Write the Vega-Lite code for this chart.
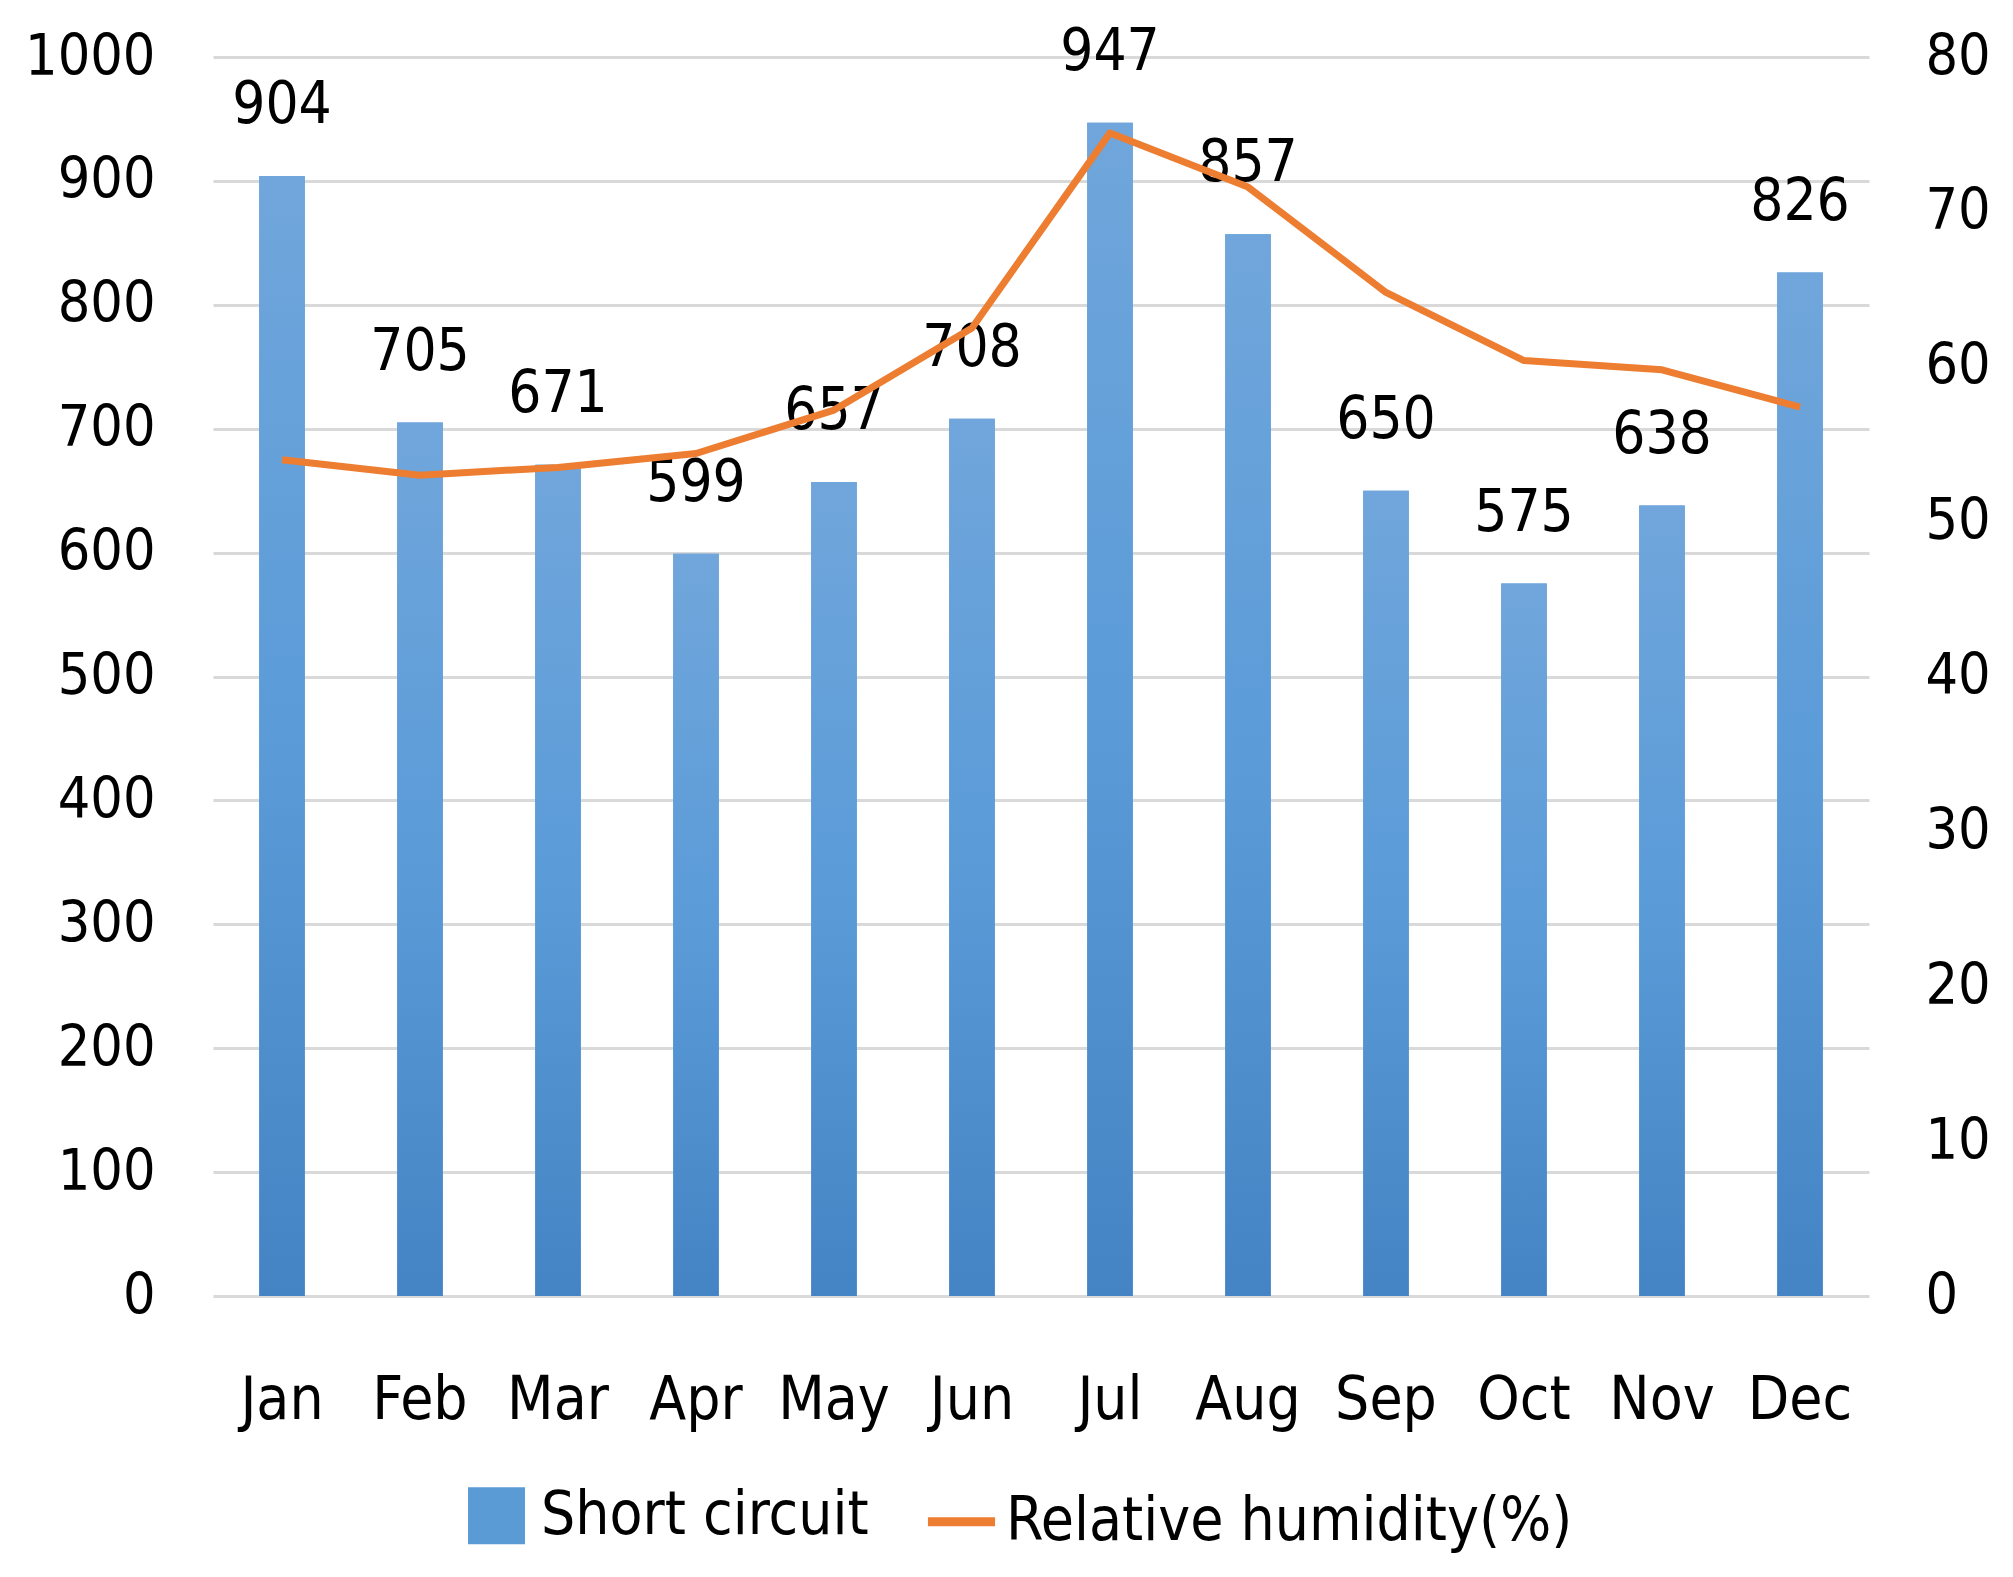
{
  "$schema": "https://vega.github.io/schema/vega-lite/v6.json",
  "width": 1656,
  "height": 1239,
  "padding": {"left": 24, "top": 23, "right": 10, "bottom": 10},
  "background": "white",
  "config": {
    "view": {"stroke": null},
    "font": "DejaVu Sans Condensed, Liberation Sans",
    "axis": {"labelColor": "black", "labelFont": "DejaVu Sans Condensed, Liberation Sans"},
    "legend": {"labelColor": "black", "labelFont": "DejaVu Sans Condensed, Liberation Sans"}
  },
  "data": {
    "values": [
      {"month": "Jan", "short": 904, "humidity": 54.0},
      {"month": "Feb", "short": 705, "humidity": 53.0},
      {"month": "Mar", "short": 671, "humidity": 53.5},
      {"month": "Apr", "short": 599, "humidity": 54.4},
      {"month": "May", "short": 657, "humidity": 57.2},
      {"month": "Jun", "short": 708, "humidity": 62.5},
      {"month": "Jul", "short": 947, "humidity": 75.1},
      {"month": "Aug", "short": 857, "humidity": 71.6},
      {"month": "Sep", "short": 650, "humidity": 64.8},
      {"month": "Oct", "short": 575, "humidity": 60.4},
      {"month": "Nov", "short": 638, "humidity": 59.8},
      {"month": "Dec", "short": 826, "humidity": 57.4}
    ]
  },
  "encoding": {
    "x": {
      "field": "month",
      "type": "nominal",
      "sort": null,
      "scale": {"paddingInner": 0.67, "paddingOuter": 0.335},
      "axis": {
        "title": null,
        "labelAngle": 0,
        "labelFontSize": 60,
        "labelPadding": 75,
        "ticks": false,
        "domain": false,
        "grid": false
      }
    }
  },
  "layer": [
    {
      "encoding": {
        "y": {
          "field": "short",
          "type": "quantitative",
          "scale": {"domain": [0, 1000]},
          "axis": {
            "title": null,
            "format": "d",
            "values": [0, 100, 200, 300, 400, 500, 600, 700, 800, 900, 1000],
            "grid": true,
            "gridColor": "#D9D9D9",
            "gridWidth": 3,
            "domain": false,
            "ticks": false,
            "labelFontSize": 57,
            "labelPadding": 58
          }
        }
      },
      "layer": [
        {
          "mark": {"type": "bar"},
          "encoding": {
            "color": {
              "datum": "Short circuit",
              "scale": {
                "domain": ["Short circuit", "Relative humidity(%)"],
                "range": ["#5B9BD5", "#ED7D31"]
              },
              "legend": {
                "orient": "none",
                "legendX": 245,
                "legendY": 1420,
                "direction": "horizontal",
                "title": null,
                "labelFontSize": 60,
                "labelLimit": 0,
                "symbolSize": 2300,
                "columnPadding": 40,
                "labelOffset": 6,
                "encode": {
                  "symbols": {
                    "update": {
                      "shape": {"signal": "datum.value == 'Short circuit' ? 'square' : 'stroke'"},
                      "size": {"signal": "datum.value == 'Short circuit' ? 2300 : 4500"},
                      "fill": {"signal": "datum.value == 'Short circuit' ? '#5B9BD5' : 'transparent'"},
                      "stroke": {"signal": "datum.value == 'Short circuit' ? 'transparent' : '#ED7D31'"},
                      "strokeWidth": {"value": 9}
                    }
                  }
                }
              }
            }
          }
        },
        {
          "mark": {
            "type": "bar",
            "fill": {
              "gradient": "linear",
              "x1": 0, "y1": 0, "x2": 0, "y2": 1,
              "stops": [
                {"offset": 0, "color": "#70A6DB"},
                {"offset": 0.5, "color": "#5A9BD8"},
                {"offset": 1, "color": "#4584C4"}
              ]
            }
          }
        },
        {
          "mark": {"type": "text", "dy": -70, "fontSize": 58, "color": "black", "baseline": "middle"},
          "encoding": {"text": {"field": "short"}}
        }
      ]
    },
    {
      "mark": {"type": "line", "strokeWidth": 7, "strokeJoin": "round"},
      "encoding": {
        "y": {
          "field": "humidity",
          "type": "quantitative",
          "scale": {"domain": [0, 80]},
          "axis": {
            "orient": "right",
            "title": null,
            "values": [0, 10, 20, 30, 40, 50, 60, 70, 80],
            "grid": false,
            "domain": false,
            "ticks": false,
            "labelFontSize": 57,
            "labelPadding": 56
          }
        },
        "color": {"datum": "Relative humidity(%)"}
      }
    }
  ],
  "resolve": {"scale": {"y": "independent"}}
}
